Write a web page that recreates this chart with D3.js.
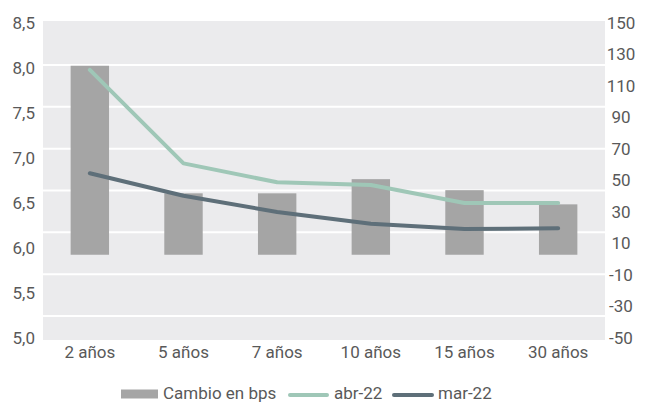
<!DOCTYPE html>
<html>
<head>
<meta charset="utf-8">
<script src="https://cdn.jsdelivr.net/npm/d3@7"></script>
<style>
  html, body { margin: 0; padding: 0; background: #ffffff; }
  svg { display: block; font-family: Roboto, "Open Sans", sans-serif; }
</style>
</head>
<body>
<svg id="chart" width="650" height="404"></svg>
<script>
// Plazos de la curva
const categories = ["2 años", "5 años", "7 años", "10 años", "15 años", "30 años"];
// Cambio en puntos básicos (eje derecho)
const cambioBps = [120, 39, 39, 48, 41, 32];
// Tasas (%) por plazo (eje izquierdo)
const abr22 = [7.98, 6.94, 6.73, 6.70, 6.50, 6.50];
const mar22 = [6.83, 6.58, 6.40, 6.27, 6.21, 6.22];
// Marcas de los ejes
const leftTicks = [5.0, 5.5, 6.0, 6.5, 7.0, 7.5, 8.0, 8.5];
const rightTicks = [-50, -30, -10, 10, 30, 50, 70, 90, 110, 130, 150];
const seriesNames = ["Cambio en bps", "abr-22", "mar-22"];

const colors = { bar: "#a5a5a5", abr: "#9fc7b7", mar: "#5e6f79", text: "#595959", plotBg: "#ebebed" };
const fontSize = "17px";

const svg = d3.select("#chart");
const plot = { left: 43, right: 605, top: 21, bottom: 340 };

const x = d3.scaleBand().domain(categories).range([plot.left, plot.right]).padding(0);
const yLeft = d3.scaleLinear().domain([5.0, 8.5]).range([338, 23]);
const yRight = d3.scaleLinear().domain([-50, 150]).range([333.5, 18.5]);
const rightLabelShift = 4.5;

// Fondo del área de trazado
svg.append("rect")
  .attr("x", plot.left).attr("y", plot.top)
  .attr("width", plot.right - plot.left).attr("height", plot.bottom - plot.top)
  .attr("fill", colors.plotBg);

// Líneas de cuadrícula blancas
const grid = d3.scaleLinear().domain([0, 6]).range([316, 65]);
svg.append("g").selectAll("line")
  .data(d3.range(7))
  .join("line")
  .attr("x1", plot.left).attr("x2", plot.right)
  .attr("y1", d => grid(d)).attr("y2", d => grid(d))
  .attr("stroke", "#ffffff").attr("stroke-width", 2);

// Barras: cambio en bps
const barW = x.bandwidth() * 0.41;
svg.append("g").selectAll("rect")
  .data(cambioBps)
  .join("rect")
  .attr("x", (d, i) => x(categories[i]) + x.bandwidth() / 2 - barW / 2)
  .attr("width", barW)
  .attr("y", d => yRight(d))
  .attr("height", d => yRight(0) - yRight(d))
  .attr("fill", colors.bar);

// Curvas
const line = d3.line()
  .x((d, i) => x(categories[i]) + x.bandwidth() / 2)
  .y(d => yLeft(d));

svg.append("path").datum(abr22)
  .attr("d", line).attr("fill", "none")
  .attr("stroke", colors.abr).attr("stroke-width", 4)
  .attr("stroke-linecap", "round").attr("stroke-linejoin", "round");

svg.append("path").datum(mar22)
  .attr("d", line).attr("fill", "none")
  .attr("stroke", colors.mar).attr("stroke-width", 4)
  .attr("stroke-linecap", "round").attr("stroke-linejoin", "round");

// Eje izquierdo
const fmtComma = d => d.toFixed(1).replace(".", ",");
const axL = svg.append("g").attr("transform", `translate(${plot.left - 8},0)`)
  .call(d3.axisLeft(yLeft).tickValues(leftTicks).tickFormat(fmtComma).tickSize(0).tickPadding(0));

// Eje derecho
const axR = svg.append("g").attr("transform", `translate(621,0)`)
  .call(d3.axisRight(yRight).tickValues(rightTicks).tickFormat(d => d < 0 ? "-" + Math.abs(d) : d).tickSize(0).tickPadding(0));
axR.selectAll("text").attr("text-anchor", "middle").attr("transform", `translate(0,${rightLabelShift})`);

// Eje de categorías
const axX = svg.append("g").attr("transform", `translate(0,${plot.bottom})`)
  .call(d3.axisBottom(x).tickSize(0).tickPadding(6));

[axL, axR, axX].forEach(g => {
  g.select(".domain").remove();
  g.selectAll("text")
    .attr("fill", colors.text)
    .style("font-size", fontSize)
    .style("font-family", "Roboto, sans-serif");
});

// Leyenda
const legend = svg.append("g");
const ly = 393;
legend.append("rect").attr("x", 121).attr("y", ly - 3.5).attr("width", 37).attr("height", 9).attr("fill", colors.bar);
legend.append("text").attr("x", 163).attr("y", ly).attr("dy", "0.35em")
  .attr("fill", colors.text).style("font-size", fontSize).text(seriesNames[0]);
legend.append("line").attr("x1", 290).attr("x2", 327).attr("y1", ly + 2).attr("y2", ly + 2)
  .attr("stroke", colors.abr).attr("stroke-width", 4).attr("stroke-linecap", "round");
legend.append("text").attr("x", 334).attr("y", ly).attr("dy", "0.35em")
  .attr("fill", colors.text).style("font-size", fontSize).text(seriesNames[1]);
legend.append("line").attr("x1", 394).attr("x2", 432).attr("y1", ly + 2).attr("y2", ly + 2)
  .attr("stroke", colors.mar).attr("stroke-width", 4).attr("stroke-linecap", "round");
legend.append("text").attr("x", 438).attr("y", ly).attr("dy", "0.35em")
  .attr("fill", colors.text).style("font-size", fontSize).text(seriesNames[2]);
</script>
</body>
</html>
